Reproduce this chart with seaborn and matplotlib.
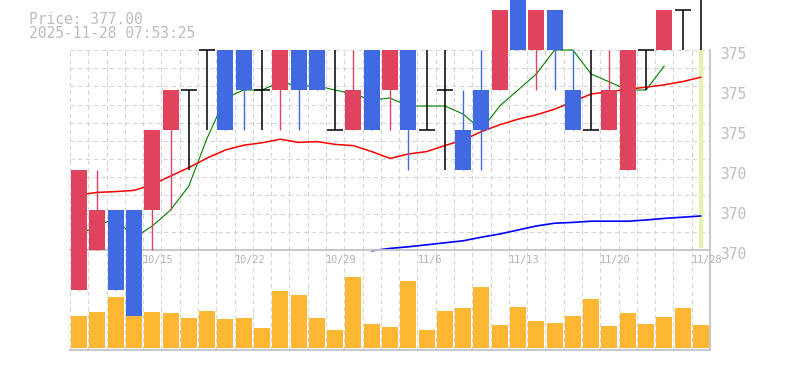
import numpy as np
import pandas as pd
import matplotlib
matplotlib.use("Agg")
import matplotlib.pyplot as plt
import matplotlib.transforms as mtransforms
import seaborn as sns

# ---------------- data ----------------
dates = ["10/8", "10/9", "10/10", "10/14", "10/15", "10/16", "10/17", "10/20", "10/21", "10/22",
         "10/23", "10/24", "10/27", "10/28", "10/29", "10/30", "10/31", "11/4", "11/5", "11/6",
         "11/7", "11/10", "11/11", "11/12", "11/13", "11/14", "11/17", "11/18", "11/19", "11/20",
         "11/21", "11/25", "11/26", "11/27", "11/28"]
opens  = [371, 372, 373, 373, 373, 375, 376, 377, 377, 377, 376, 376, 377, 377, 375, 375, 377, 376,
          377, 375, 376, 375, 376, 376, 379, 377, 378, 376, 375, 375, 374, 377, 377, 378, 379]
highs  = [374, 374, 373, 373, 375, 376, 376, 377, 377, 377, 377, 377, 377, 377, 377, 377, 377, 377,
          377, 377, 377, 376, 377, 378, 379, 378, 378, 377, 377, 377, 377, 377, 378, 378, 379]
lows   = [371, 372, 371, 370, 372, 373, 374, 375, 375, 375, 375, 375, 375, 376, 375, 375, 375, 375,
          374, 375, 374, 374, 374, 376, 377, 376, 376, 375, 375, 375, 374, 376, 377, 377, 377]
closes = [374, 373, 371, 370, 375, 376, 376, 377, 375, 376, 376, 377, 376, 376, 375, 376, 375, 377,
          375, 375, 376, 374, 375, 378, 377, 378, 377, 375, 375, 376, 377, 377, 378, 378, 379]
volume = [3230, 3630, 5130, 3230, 3630, 3530, 3030, 3730, 2930, 3030, 2030, 5730, 5330, 3030,
          1830, 7130, 2430, 2130, 6730, 1830, 3730, 4030, 6130, 2330, 4130, 2730, 2530, 3230,
          4930, 2230, 3530, 2430, 3130, 4030, 2330]
ma_short = [372.4, 372.6, 372.8, 372.3, 372.6, 373.0, 373.6, 374.8, 375.8, 376.0, 376.0, 376.2,
            376.1, 376.1, 376.0, 375.9, 375.75, 375.8, 375.6, 375.6, 375.6, 375.4, 375.0, 375.6,
            376.0, 376.4, 377.0, 377.0, 376.4, 376.2, 376.0, 376.0, 376.6, np.nan, np.nan]
ma_mid = [373.38, 373.44, 373.46, 373.49, 373.63, 373.85, 374.06, 374.30, 374.50, 374.62,
          374.68, 374.77, 374.69, 374.71, 374.64, 374.61, 374.46, 374.29, 374.40, 374.46,
          374.61, 374.75, 374.96, 375.13, 375.27, 375.38, 375.52, 375.71, 375.90, 375.96,
          376.02, 376.07, 376.13, 376.21, 376.32]
ma_long = [np.nan] * 16 + [371.98, 372.04, 372.08, 372.13, 372.18, 372.23, 372.32, 372.40,
                           372.50, 372.60, 372.67, 372.69, 372.72, 372.72, 372.72, 372.75,
                           372.79, 372.82, 372.85]
price_ticks = [372, 373, 374, 375, 376, 377]
price_tick_labels = ["370", "370", "370", "375", "375", "375"]
label_idx = [4, 9, 14, 19, 24, 29, 34]
title_lines = ["Price: 377.00", "2025-11-28 07:53:25"]

# ---------------- style ----------------
UP = "#E0435E"
DOWN = "#4169E1"
VOLC = "#FDB733"
GRID = "#d6d6d6"
SPINE = "#c4c4c4"
TXT = "#bdbdbd"

sns.set_style("white")
plt.rcParams['font.family'] = ['DejaVu Sans Mono', 'DejaVu Sans']

fig = plt.figure(figsize=(7.85, 3.70), dpi=100)
ax = fig.add_axes([70 / 785, 120 / 370, 640 / 785, 200 / 370])
axv = fig.add_axes([70 / 785, 20 / 370, 640 / 785, 100 / 370])
axv.patch.set_alpha(0)

n = len(dates)
x = np.arange(n)
df = pd.DataFrame({"x": x, "open": opens, "high": highs, "low": lows, "close": closes,
                   "volume": volume, "ma_s": ma_short, "ma_m": ma_mid, "ma_l": ma_long})

# ---- main price panel ----
ax.set_xlim(-0.5, n - 0.5)
ax.set_ylim(price_ticks[0], price_ticks[-1])
dash = (0, (4, 3))
for xv in np.arange(-0.5, n - 0.5, 1.0):
    ax.axvline(xv, color=GRID, lw=0.8, ls=dash, zorder=0)
for k in range(1, 12):
    ax.axhline(price_ticks[0] + k * (price_ticks[-1] - price_ticks[0]) / 11,
               color=GRID, lw=0.8, ls=dash, zorder=0)

ax.axvspan(n - 1 - 0.09, n - 1 + 0.09, ymin=0.01, ymax=1.0, color="#e3f3aa", lw=0, zorder=1)

for col, c, lw in [("ma_s", "#008000", 0.8), ("ma_m", "#FF0000", 1.1), ("ma_l", "#0000FF", 1.2)]:
    sns.lineplot(data=df, x="x", y=col, color=c, lw=lw, ax=ax, zorder=2)
for ln in ax.get_lines():
    ln.set_clip_on(False)

bw = 0.876
for i in range(n):
    o, h, l, c = opens[i], highs[i], lows[i], closes[i]
    if o == c:
        ax.vlines(i, l, h, color="black", lw=1.1, zorder=3, clip_on=False)
        ax.hlines(o, i - bw / 2, i + bw / 2, color="black", lw=1.1, zorder=3, clip_on=False)
    else:
        col = UP if c > o else DOWN
        ax.vlines(i, l, h, color=col, lw=1.0, zorder=3, clip_on=False)
        bars = ax.bar(i, abs(c - o), bottom=min(o, c), width=bw, color=col, lw=0, zorder=4)
        for p in bars:
            p.set_clip_on(False)

ax.set_xlabel("")
ax.set_ylabel("")
ax.set_xticks([])
ax.yaxis.tick_right()
ax.set_yticks(price_ticks, price_tick_labels)
ax.tick_params(axis="y", length=0, pad=7, labelsize=10.5, labelcolor=TXT)
shift = mtransforms.ScaledTranslation(0, -3 / 100, fig.dpi_scale_trans)
for lab in ax.get_yticklabels():
    lab.set_transform(lab.get_transform() + shift)
for s in ["top", "left"]:
    ax.spines[s].set_visible(False)
for s in ["bottom", "right"]:
    ax.spines[s].set_color(SPINE)
    ax.spines[s].set_linewidth(1.3)

# ---- volume panel ----
for xv in np.arange(-0.5, n - 0.5, 1.0):
    axv.axvline(xv, color=GRID, lw=0.8, ls=dash, zorder=0)
sns.barplot(data=df, x="x", y="volume", native_scale=True, width=bw, color=VOLC,
            saturation=1, lw=0, ax=axv, zorder=2)
axv.set_xlim(-0.5, n - 0.5)
axv.set_ylim(-170, 9830)
axv.set_xticks([])
axv.set_yticks([])
axv.set_xlabel("")
axv.set_ylabel("")
for s in ["top", "left"]:
    axv.spines[s].set_visible(False)
for s in ["bottom", "right"]:
    axv.spines[s].set_color(SPINE)
    axv.spines[s].set_linewidth(1.3)

trans = mtransforms.blended_transform_factory(axv.transData, axv.transAxes)
for idx in label_idx:
    axv.text(idx - 0.5, 0.955, dates[idx], transform=trans, ha="left", va="top",
             fontsize=7.4, color="#b3b3b3", zorder=6, clip_on=False)

fig.text(29 / 785, 1 - 23.5 / 370, title_lines[0], fontsize=10.5, color=TXT, va="baseline")
fig.text(29 / 785, 1 - 38.5 / 370, title_lines[1], fontsize=10.5, color=TXT, va="baseline")

fig.savefig("out.png", dpi=100)
